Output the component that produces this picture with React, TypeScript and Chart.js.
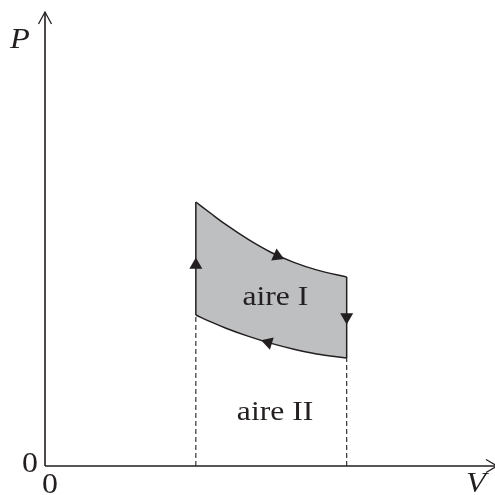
import React, { useEffect, useRef } from 'react';
import { Chart, registerables } from 'chart.js';
Chart.register(...registerables);

// ---- data ----
const volumes = [1.0, 1.1, 1.2, 1.35, 1.5, 1.65, 1.8, 2.0];
const upperPressure = [2.64, 2.525, 2.413, 2.263, 2.135, 2.036, 1.961, 1.89];
const lowerPressure = [1.51, 1.441, 1.378, 1.296, 1.226, 1.168, 1.121, 1.08];
const arrowVolumes = [1.0, 1.54, 2.0, 1.48];
const arrowPressures = [2.01, 2.1, 1.49, 1.235];
const arrowAngles = [0, 114, 180, -73];
const xTickLabels = ['0'];
const yTickLabels = ['0'];
const xAxisTitle = 'V';
const yAxisTitle = 'P';
const areaLabels = ['aire I', 'aire II'];

const X_MAX = 2.97;
const Y_MAX = 4.54;
const INK = '#231f20';
const GRAY = '#bebfc1';
const SERIF = '"Liberation Serif", "Times New Roman", serif';

const last = volumes.length - 1;

function wideText(ctx: CanvasRenderingContext2D, text: string, x: number, y: number, sx: number) {
  ctx.save();
  ctx.translate(x, y);
  ctx.scale(sx, 1);
  ctx.fillText(text, 0, 0);
  ctx.restore();
}

const overlay = {
  id: 'overlay',
  afterDraw(chart: any) {
    const ctx = chart.ctx;
    const xs = chart.scales.x;
    const ys = chart.scales.y;
    const x0 = xs.getPixelForValue(0);
    const y0 = ys.getPixelForValue(0);
    const xEnd = xs.getPixelForValue(X_MAX) + 4;
    const yEnd = ys.getPixelForValue(Y_MAX);
    ctx.save();
    ctx.strokeStyle = INK;
    ctx.lineWidth = 1.6;
    ctx.beginPath();
    ctx.moveTo(x0, y0);
    ctx.lineTo(x0, yEnd);
    ctx.moveTo(x0, y0);
    ctx.lineTo(xEnd, y0);
    ctx.stroke();
    ctx.lineWidth = 1.3;
    ctx.beginPath();
    ctx.moveTo(x0 - 6.5, yEnd + 12);
    ctx.lineTo(x0, yEnd);
    ctx.lineTo(x0 + 6.5, yEnd + 12);
    ctx.moveTo(xEnd - 11, y0 - 6.5);
    ctx.lineTo(xEnd, y0);
    ctx.lineTo(xEnd - 11, y0 + 6.5);
    ctx.stroke();

    ctx.fillStyle = INK;
    ctx.textBaseline = 'alphabetic';
    ctx.textAlign = 'center';
    ctx.font = `29px ${SERIF}`;
    wideText(ctx, yTickLabels[0], x0 - 15, y0 + 6, 1.1);
    wideText(ctx, xTickLabels[0], x0 + 5, y0 + 27, 1.1);
    ctx.font = `italic 29px ${SERIF}`;
    wideText(ctx, xAxisTitle, xs.getPixelForValue(X_MAX) - 17, y0 + 26, 1.12);
    wideText(ctx, yAxisTitle, x0 - 25, yEnd + 36, 1.12);

    ctx.font = `28px ${SERIF}`;
    wideText(ctx, areaLabels[0], xs.getPixelForValue(1.527), ys.getPixelForValue(1.61), 1.13);
    wideText(ctx, areaLabels[1], xs.getPixelForValue(1.525), ys.getPixelForValue(0.46), 1.13);
    ctx.restore();
  },
};

export default function App() {
  const ref = useRef<HTMLCanvasElement>(null);
  useEffect(() => {
    const upper = volumes.map((v, i) => ({ x: v, y: upperPressure[i] }));
    const lower = volumes.map((v, i) => ({ x: v, y: lowerPressure[i] }));
    const base = {
      showLine: true,
      pointRadius: 0,
      borderColor: INK,
      borderWidth: 1.5,
      fill: false,
    };
    const chart = new Chart(ref.current!, {
      type: 'scatter',
      data: {
        datasets: [
          {
            data: arrowVolumes.map((v, i) => ({ x: v, y: arrowPressures[i] })),
            showLine: false,
            pointStyle: 'triangle',
            pointRadius: 7.5,
            rotation: arrowAngles,
            backgroundColor: INK,
            borderWidth: 0,
          } as any,
          {
            ...base,
            data: upper,
            cubicInterpolationMode: 'monotone',
            fill: '+1',
            backgroundColor: GRAY,
          },
          { ...base, data: lower, cubicInterpolationMode: 'monotone' },
          { ...base, data: [lower[0], upper[0]] },
          { ...base, data: [upper[last], lower[last]] },
          { ...base, data: [{ x: volumes[0], y: 0 }, lower[0]], borderWidth: 1.1, borderDash: [5, 3] },
          { ...base, data: [{ x: volumes[last], y: 0 }, lower[last]], borderWidth: 1.1, borderDash: [5, 3] },
        ] as any,
      },
      options: {
        responsive: false,
        animation: false,
        events: [],
        layout: { autoPadding: false, padding: { left: 45, right: 2, top: 12, bottom: 29 } },
        scales: {
          x: { type: 'linear', min: 0, max: X_MAX, display: false },
          y: { type: 'linear', min: 0, max: Y_MAX, display: false },
        },
        plugins: {
          legend: { display: false },
          tooltip: { enabled: false },
          filler: { drawTime: 'beforeDatasetsDraw' },
        } as any,
      } as any,
      plugins: [overlay],
    });
    return () => chart.destroy();
  }, []);
  return (
    <div style={{ position: 'absolute', left: 0, top: 0, width: 495, height: 495, background: '#fff' }}>
      <canvas ref={ref} width={495} height={495} style={{ display: 'block' }} />
    </div>
  );
}
